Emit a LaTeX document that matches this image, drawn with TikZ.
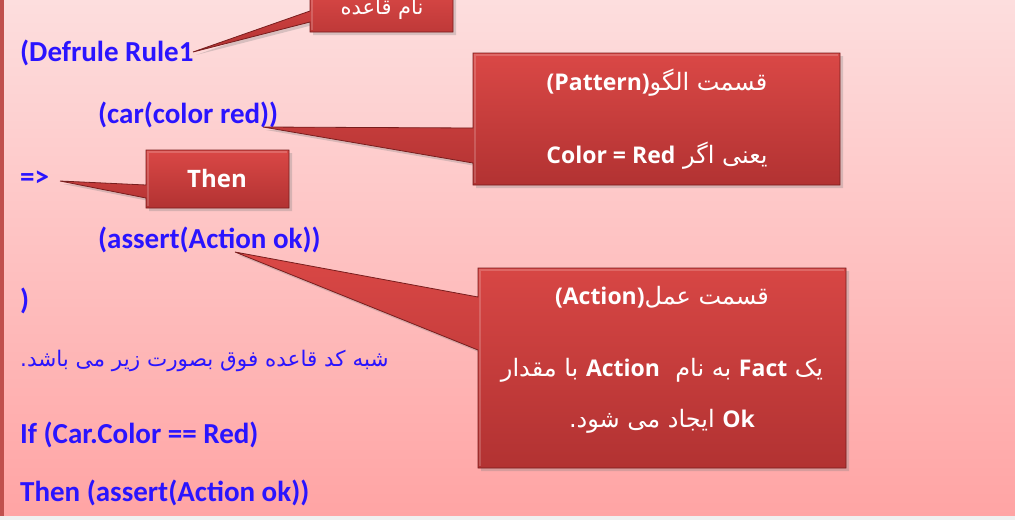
\documentclass[tikz,border=0pt]{standalone}
\usepackage{fontspec}
\setmainfont{Carlito}
\newfontfamily\fa[Script=Arabic]{DejaVu Sans}
\newfontfamily\lat{Open Sans}
\TeXXeTstate=1
\usetikzlibrary{shadows}

\definecolor{bgTop}{RGB}{253,222,222}
\definecolor{bgBot}{RGB}{255,164,164}
\definecolor{sideBar}{RGB}{192,80,77}
\definecolor{codeBlue}{RGB}{42,20,255}
\definecolor{cTop}{RGB}{218,72,70}
\definecolor{cBot}{RGB}{178,50,50}
\definecolor{cEdge}{RGB}{120,30,30}

\tikzset{
  code/.style={anchor=base west, inner sep=0pt, text=codeBlue,
    font=\fontsize{29}{33}\selectfont\bfseries},
  calloutshape/.style={top color=cTop, bottom color=cBot, draw=cEdge,
    line width=0.8pt, line join=miter,
    drop shadow={shadow xshift=3pt, shadow yshift=-3pt, opacity=0.3}},
  bevel/.style={draw=white, opacity=0.18, line width=2.5pt},
  calltext/.style={inner sep=0pt, text=white},
  fatext/.style={font=\fa\fontsize{21}{26}\selectfont},
}
\newcommand{\latb}[1]{{\lat\bfseries\fontsize{23}{28}\selectfont #1}}
\newcommand{\fab}{\fa\fontsize{24}{28}\selectfont}

\begin{document}
\begin{tikzpicture}[x=1pt, y=-1pt]
  \useasboundingbox (0,0) rectangle (1015,520);

  % slide background
  \shade[top color=bgTop, bottom color=bgBot] (0,0) rectangle (1015,516);
  \fill[sideBar] (0,0) rectangle (4,516);
  \fill[black!6] (0,516) rectangle (1015,520);

  % rule text
  \node[code] (defrule) at (20,61) {(Defrule Rule1};
  \node[code] (pattern) at (98,123) {(car(color red))};
  \node[code] (arrow) at (20,186) {=>};
  \node[code] (assert) at (98,248) {(assert(Action ok))};
  \node[code] (close) at (20,309) {)};
  \node[anchor=base west, inner sep=0pt, text=codeBlue,
        font=\fa\fontsize{21.5}{26}\selectfont] (pseudo) at (20,366)
        {\beginR شبه کد قاعده فوق بصورت زیر می باشد.\endR};
  \node[code] (ifline) at (20,443) {If (Car.Color == Red)};
  \node[code] (thenline) at (20,501) {Then (assert(Action ok))};

  % callout tips
  \coordinate (tipName) at (193,52);
  \coordinate (tipPat) at (263,127);
  \coordinate (tipThen) at (60,181);
  \coordinate (tipAct) at (235,252);

  % callout: rule name
  \path[calloutshape] (310,-12) -- (453,-12) -- (453,32) -- (310,32)
        -- (310,22) -- (tipName) -- (310,11) -- cycle;
  \draw[bevel] (312,-10) -- (312,30);
  \node[calltext, fatext] (nameLbl) at (382,9) {\beginR نام قاعده\endR};

  % callout: pattern part
  \path[calloutshape] (473,53) -- (840,53) -- (840,185) -- (473,185)
        -- (473,163) -- (tipPat) -- (473,128) -- cycle;
  \draw[bevel] (475,183) -- (475,55) -- (838,55);
  \node[calltext] (patA) at (657,83)
    {\beginR{\fab قسمت الگو}\beginL\latb{(Pattern)}\endL\endR};
  \node[calltext] (patB) at (657,156)
    {\beginR{\fab یعنی اگر\ }\beginL\latb{Color = Red}\endL\endR};

  % callout: then
  \path[calloutshape] (146,150) -- (289,150) -- (289,208) -- (146,208)
        -- (146,198) -- (tipThen) -- (146,185) -- cycle;
  \draw[bevel] (148,206) -- (148,152) -- (287,152);
  \node[calltext, font=\lat\bfseries\fontsize{24}{28}\selectfont] (thenLbl) at (217,178) {Then};

  % callout: action part
  \path[calloutshape] (478,268) -- (846,268) -- (846,468) -- (478,468)
        -- (478,350) -- (tipAct) -- (478,297) -- cycle;
  \draw[bevel] (480,466) -- (480,270) -- (844,270);
  \node[calltext] (actA) at (662,297)
    {\beginR{\fab قسمت عمل}\beginL\latb{(Action)}\endL\endR};
  \node[calltext] (actB) at (662,370)
    {\beginR{\fab یک\ }\beginL\latb{Fact}\endL{\fab\ به نام\ \ }\beginL\latb{Action}\endL{\fab\ با مقدار}\endR};
  \node[calltext] (actC) at (662,421)
    {\beginR\beginL\latb{Ok}\endL{\fab\ ایجاد می شود.}\endR};
\end{tikzpicture}
\end{document}
